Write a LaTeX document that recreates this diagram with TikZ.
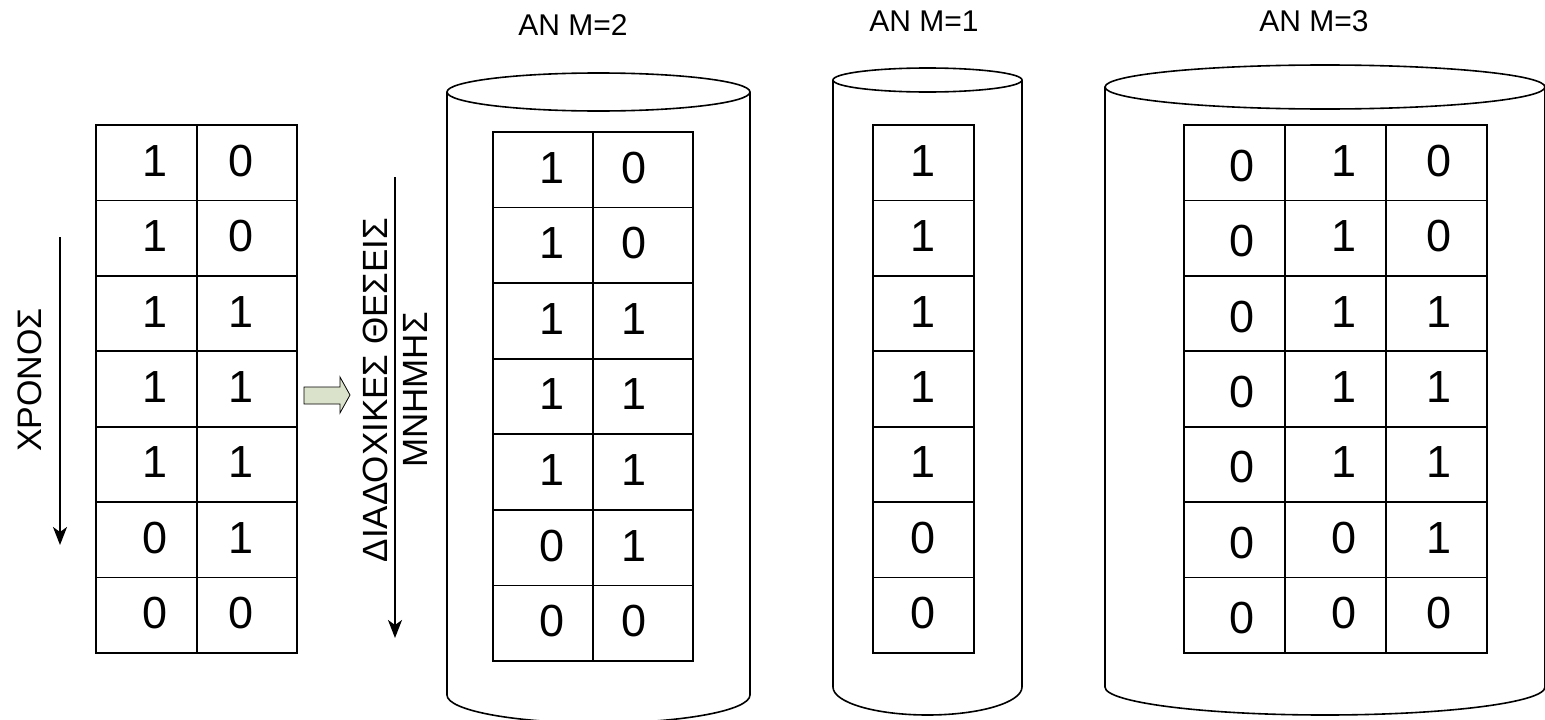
\documentclass[tikz,border=0pt]{standalone}
\usepackage{fontspec}
\setmainfont{Liberation Sans}
\usetikzlibrary{arrows.meta}
\definecolor{arrfill}{RGB}{219,226,203}
\begin{document}
\begin{tikzpicture}[x=1pt,y=-1pt,
  ln/.style={line width=1.6pt},
  cell/.style={draw, line width=1.6pt, inner sep=0pt, outer sep=0pt},
  dig/.style={inner sep=0pt, font=\fontsize{45}{52}\selectfont},
  lab/.style={inner sep=0pt, font=\fontsize{30}{36}\selectfont},
  arr/.style={line width=1.8pt, -{Stealth[length=18pt,width=14pt,inset=5pt]}}]
\useasboundingbox (0,0) rectangle (1545,720);

% ---- left table
\foreach \a/\b [count=\i] in {1/0,1/0,1/1,1/1,1/1,0/1,0/0}{
  \node[cell, minimum width=101pt, minimum height=75.43pt] (L-\i-1) at (146.5,{125+(\i-0.5)*75.43}) {};
  \node[cell, minimum width=100pt, minimum height=75.43pt] (L-\i-2) at (247,{125+(\i-0.5)*75.43}) {};
  \node[dig] at ([xshift=8.5pt,yshift=2pt]L-\i-1.center) {\a};
  \node[dig] at ([xshift=-6pt,yshift=2pt]L-\i-2.center) {\b};
}

% ---- time arrow
\node[rotate=90, inner sep=0pt, font=\fontsize{34}{40}\selectfont] (time) at (30,380) {ΧΡΟΝΟΣ};
\coordinate (ta) at (60,237);
\coordinate (tb) at (60,545);
\draw[arr] (ta) -- (tb);

% ---- block arrow
\draw[line width=0.8pt, fill=arrfill] (304,387) -- (340,387) -- (340,377) -- (350,395) -- (340,413) -- (340,404) -- (304,404) -- cycle;

% ---- memory label and arrow
\node[rotate=90, align=center, inner sep=0pt, font=\fontsize{35}{40}\selectfont] (mem) at (395,390) {ΔΙΑΔΟΧΙΚΕΣ ΘΕΣΕΙΣ\\ΜΝΗΜΗΣ};
\coordinate (ma) at (395,177);
\coordinate (mb) at (395,638);
\draw[arr] (ma) -- (mb);

% ---- cylinder M=2
\draw[ln] (447,92) -- (447,695) arc[start angle=180,end angle=0,x radius=151.5,y radius=28] -- (750,92);
\draw[ln] (598.5,92) ellipse[x radius=151.5, y radius=19];
\node[lab] (lab2) at (573,25) {ΑΝ Μ=2};
\foreach \a/\b [count=\i] in {1/0,1/0,1/1,1/1,1/1,0/1,0/0}{
  \node[cell, minimum width=100pt, minimum height=75.57pt] (A-\i-1) at (543,{132+(\i-0.5)*75.57}) {};
  \node[cell, minimum width=100pt, minimum height=75.57pt] (A-\i-2) at (643,{132+(\i-0.5)*75.57}) {};
  \node[dig] at ([xshift=9pt,yshift=2pt]A-\i-1.center) {\a};
  \node[dig] at ([xshift=-9pt,yshift=2pt]A-\i-2.center) {\b};
}

% ---- cylinder M=1
\draw[ln] (833,80) -- (833,687) arc[start angle=180,end angle=0,x radius=94.5,y radius=28] -- (1022,80);
\draw[ln] (927.5,80) ellipse[x radius=94.5, y radius=12];
\node[lab] (lab1) at (924,21) {ΑΝ Μ=1};
\foreach \a [count=\i] in {1,1,1,1,1,0,0}{
  \node[cell, minimum width=101pt, minimum height=75.43pt] (B-\i) at (923.5,{125+(\i-0.5)*75.43}) {};
  \node[dig] at ([yshift=2pt]B-\i.center) {\a};
}

% ---- cylinder M=3
\draw[ln] (1105,87) -- (1105,687) arc[start angle=180,end angle=0,x radius=220,y radius=28] -- (1545,87);
\draw[ln] (1325,87) ellipse[x radius=220, y radius=22];
\node[lab] (lab3) at (1314,21) {ΑΝ Μ=3};
\foreach \a/\b/\c [count=\i] in {0/1/0,0/1/0,0/1/1,0/1/1,0/1/1,0/0/1,0/0/0}{
  \node[cell, minimum width=101pt, minimum height=75.43pt] (C-\i-1) at (1234.5,{125+(\i-0.5)*75.43}) {};
  \node[cell, minimum width=101pt, minimum height=75.43pt] (C-\i-2) at (1335.5,{125+(\i-0.5)*75.43}) {};
  \node[cell, minimum width=101pt, minimum height=75.43pt] (C-\i-3) at (1436.5,{125+(\i-0.5)*75.43}) {};
  \node[dig] at ([xshift=7pt,yshift=-3pt]C-\i-1.center) {\a};
  \node[dig] at ([xshift=8pt,yshift=2pt]C-\i-2.center) {\b};
  \node[dig] at ([xshift=2pt,yshift=2pt]C-\i-3.center) {\c};
}
\end{tikzpicture}
\end{document}
